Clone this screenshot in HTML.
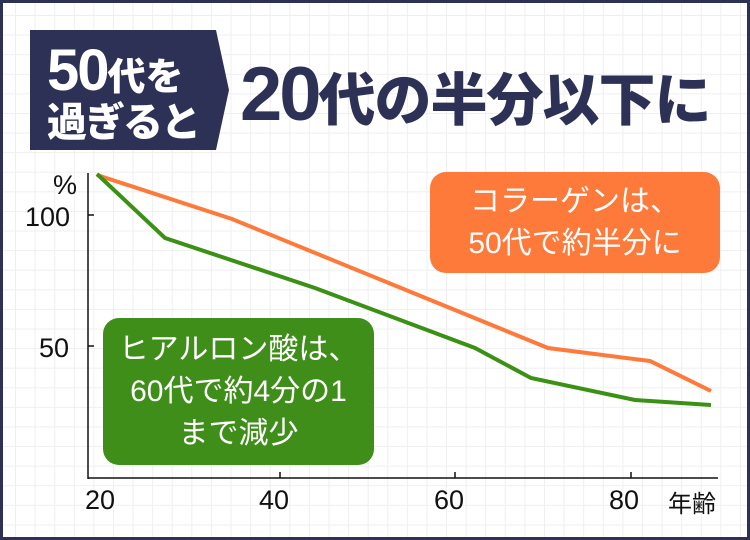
<!DOCTYPE html>
<html><head><meta charset="utf-8"><style>
body{margin:0;width:750px;height:540px;overflow:hidden;font-family:"Liberation Sans","Noto Sans CJK JP",sans-serif}
#w{position:relative;width:744px;height:534px;border:3px solid #2e3156;background-color:#fff;
background-image:linear-gradient(#efeff2 1px,transparent 1px),linear-gradient(90deg,#efeff2 1px,transparent 1px);background-size:19.6px 19.6px;background-position:12px 12px}
.t{position:absolute;font-weight:900;white-space:nowrap}
.box{position:absolute;border-radius:16px;color:#fff;text-align:center;font-size:30px;line-height:42px;display:flex;align-items:center;justify-content:center}
.lab{position:absolute;font-size:27px;color:#111}
</style></head><body><div id="w">
<svg width="750" height="540" style="position:absolute;left:-3px;top:-3px">
<polygon points="30,30 216,30 229,90 216,150 30,150" fill="#2e3156"/>
<line x1="88" y1="173" x2="88" y2="479" stroke="#111" stroke-width="1.5"/>
<line x1="88" y1="478" x2="718" y2="478" stroke="#111" stroke-width="1.5"/>
<line x1="88" y1="215" x2="94" y2="215" stroke="#111" stroke-width="1.5"/>
<line x1="88" y1="346" x2="94" y2="346" stroke="#111" stroke-width="1.5"/>
<line x1="280" y1="472" x2="280" y2="478" stroke="#111" stroke-width="1.5"/>
<line x1="455" y1="472" x2="455" y2="478" stroke="#111" stroke-width="1.5"/>
<line x1="631" y1="472" x2="631" y2="478" stroke="#111" stroke-width="1.5"/>
<polyline points="97,175 232,219 548,348 650,361 711,391" fill="none" stroke="#fd7a3b" stroke-width="4"/>
<polyline points="97,174 165,238 315,288 475,348 531,378 635,400 711,405" fill="none" stroke="#3a9114" stroke-width="4"/>
</svg>
<div class="t" style="left:44px;top:40px;color:#fff;font-size:58px;line-height:56px;letter-spacing:-2px">50<span style="font-size:38px;letter-spacing:0">代を</span></div>
<div class="t" style="left:44px;top:94px;color:#fff;font-size:40px;line-height:52px;letter-spacing:-2px">過ぎると</div>
<div class="t" style="left:237px;top:42px;color:#2e3156;font-size:76px;line-height:100px;letter-spacing:-3px">20<span style="font-size:57px;letter-spacing:-1px">代の半分以下に</span></div>
<div class="lab" style="left:50px;top:167px">%</div>
<div class="lab" style="left:22px;top:199px">100</div>
<div class="lab" style="left:36px;top:330px">50</div>
<div class="lab" style="left:82px;top:482px">20</div>
<div class="lab" style="left:256px;top:482px">40</div>
<div class="lab" style="left:431px;top:482px">60</div>
<div class="lab" style="left:606px;top:482px">80</div>
<div class="lab" style="left:665px;top:481px;font-size:24px">年齢</div>
<div class="box" style="left:427px;top:169px;width:290px;height:101px;background:#fd7a3b">コラーゲンは、<br>50代で約半分に</div>
<div class="box" style="left:100px;top:315px;width:271px;height:147px;background:#3f8e1a;line-height:42px">ヒアルロン酸は、<br>60代で約4分の1<br>まで減少</div>
</div></body></html>
